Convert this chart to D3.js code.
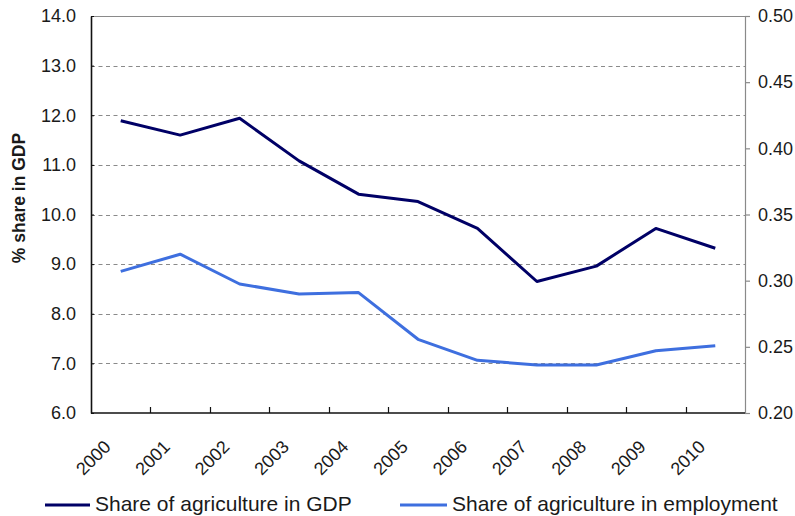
<!DOCTYPE html>
<html>
<head>
<meta charset="utf-8">
<script src="https://cdn.jsdelivr.net/npm/d3@7"></script>
<style>
  html, body { margin: 0; padding: 0; background: #ffffff; }
  svg { display: block; font-family: "Liberation Sans", Arial, sans-serif; }
</style>
</head>
<body>
<svg id="chart" width="795" height="516"></svg>
<script>
const years = ["2000","2001","2002","2003","2004","2005","2006","2007","2008","2009","2010"];
const gdpShare = [11.89, 11.60, 11.94, 11.08, 10.41, 10.26, 9.72, 8.65, 8.96, 9.72, 9.32];
const empShare = [0.307, 0.320, 0.2975, 0.290, 0.291, 0.2557, 0.2398, 0.2363, 0.2363, 0.2471, 0.2509];
const leftTicks = [6, 7, 8, 9, 10, 11, 12, 13, 14];
const rightTicks = [0.20, 0.25, 0.30, 0.35, 0.40, 0.45, 0.50];
const seriesNames = ["Share of agriculture in GDP", "Share of agriculture in employment"];
const yTitle = "% share in GDP";

const colGdp = "#000066";
const colEmp = "#3e6fdf";

const svg = d3.select("#chart");
const L = 91, R = 745, T = 16, B = 413;

const x = d3.scaleBand().domain(years).range([L, R]).paddingInner(0).paddingOuter(0);
const yL = d3.scaleLinear().domain([6, 14]).range([B, T]);
const yR = d3.scaleLinear().domain([0.20, 0.50]).range([B, T]);
const cx = d => x(d) + x.bandwidth() / 2;

// gridlines (left axis values, excluding bottom and top)
svg.append("g").selectAll("line")
  .data(leftTicks.filter(v => v > 6 && v < 14))
  .join("line")
  .attr("x1", L).attr("x2", R)
  .attr("y1", d => Math.round(yL(d)) + 0.5).attr("y2", d => Math.round(yL(d)) + 0.5)
  .attr("stroke", "#8a8a8a").attr("stroke-width", 1.2)
  .attr("stroke-dasharray", "4,3.5");

// top border
svg.append("line").attr("x1", L).attr("x2", R).attr("y1", T + 0.5).attr("y2", T + 0.5)
  .attr("stroke", "#8a8a8a").attr("stroke-width", 1.2);

// right axis
const rightAxis = d3.axisRight(yR).tickValues(rightTicks).tickSize(5).tickPadding(8)
  .tickFormat(d3.format(".2f"));
const gR = svg.append("g").attr("transform", `translate(${R},0)`).call(rightAxis);
gR.select(".domain").attr("stroke", "#8a8a8a").attr("stroke-width", 1.2);
gR.selectAll(".tick line").attr("stroke", "#8a8a8a").attr("stroke-width", 1.2);
gR.selectAll(".tick text").attr("font-size", 18).attr("fill", "#1a1a1a")
  .attr("font-family", "'Liberation Sans', Arial, sans-serif");

// left axis
const leftAxis = d3.axisLeft(yL).tickValues(leftTicks).tickSizeInner(-3).tickSizeOuter(0)
  .tickPadding(15).tickFormat(d3.format(".1f"));
const gL = svg.append("g").attr("transform", `translate(${L},0)`).call(leftAxis);
gL.select(".domain").attr("stroke", "#111").attr("stroke-width", 1.6);
gL.selectAll(".tick line").attr("stroke", "#111");
gL.selectAll(".tick text").attr("font-size", 18).attr("fill", "#1a1a1a")
  .attr("font-family", "'Liberation Sans', Arial, sans-serif");

// bottom axis line
svg.append("line").attr("x1", L).attr("x2", R).attr("y1", B).attr("y2", B)
  .attr("stroke", "#111").attr("stroke-width", 1.6);
// category boundary ticks (inside)
svg.append("g").selectAll("line")
  .data(years.slice(1))
  .join("line")
  .attr("x1", d => Math.round(x(d)) + 0.5).attr("x2", d => Math.round(x(d)) + 0.5)
  .attr("y1", B).attr("y2", B - 6)
  .attr("stroke", "#111").attr("stroke-width", 1.2);

// x labels rotated
svg.append("g").selectAll("text")
  .data(years)
  .join("text")
  .attr("transform", d => `translate(${cx(d) - 9},${448}) rotate(-45)`)
  .attr("text-anchor", "end")
  .attr("font-size", 18).attr("fill", "#1a1a1a")
  .text(d => d);

// y title
svg.append("text")
  .attr("transform", `translate(25,198) rotate(-90)`)
  .attr("text-anchor", "middle")
  .attr("font-size", 17.5).attr("font-weight", "bold").attr("fill", "#1a1a1a")
  .text(yTitle);

// lines
const lineL = d3.line().x((d, i) => cx(years[i])).y(d => yL(d));
const lineR = d3.line().x((d, i) => cx(years[i])).y(d => yR(d));
svg.append("path").datum(empShare).attr("d", lineR)
  .attr("fill", "none").attr("stroke", colEmp).attr("stroke-width", 3).attr("stroke-linejoin", "round");
svg.append("path").datum(gdpShare).attr("d", lineL)
  .attr("fill", "none").attr("stroke", colGdp).attr("stroke-width", 3).attr("stroke-linejoin", "round");

// legend
const legend = [
  { name: seriesNames[0], color: colGdp, x1: 45, x2: 90, tx: 95 },
  { name: seriesNames[1], color: colEmp, x1: 400, x2: 447, tx: 452 }
];
const lg = svg.append("g");
legend.forEach(l => {
  lg.append("line").attr("x1", l.x1).attr("x2", l.x2).attr("y1", 505).attr("y2", 505)
    .attr("stroke", l.color).attr("stroke-width", 3);
  lg.append("text").attr("x", l.tx).attr("y", 511)
    .attr("font-size", 21).attr("fill", "#1a1a1a").text(l.name);
});
</script>
</body>
</html>
